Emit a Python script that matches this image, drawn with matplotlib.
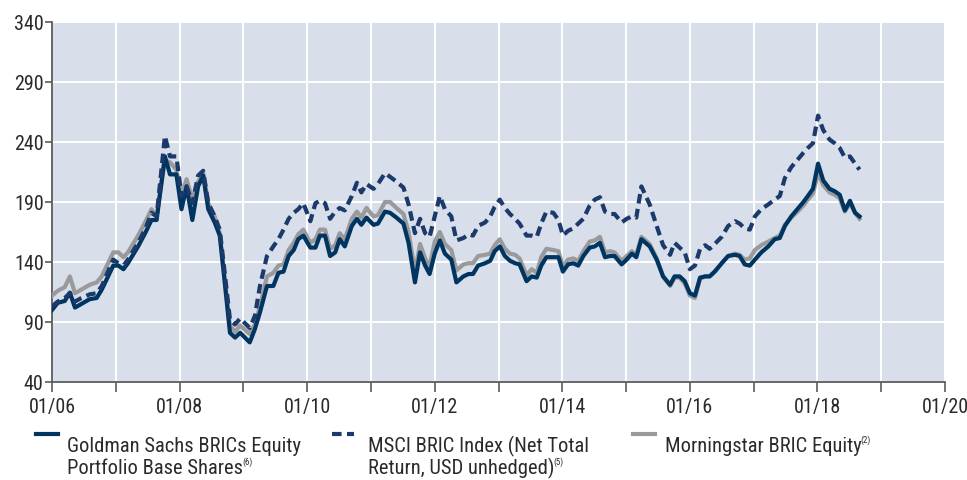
import numpy as np
import matplotlib
matplotlib.use("Agg")
import matplotlib.pyplot as plt
from matplotlib.lines import Line2D
from matplotlib.ticker import MultipleLocator, FuncFormatter

plt.rcParams['font.family'] = ['Liberation Sans Narrow', 'Roboto Condensed',
                               'Liberation Sans', 'DejaVu Sans']

# time in decimal years (month-end readings)
t = [
    2006.00, 2006.09, 2006.20, 2006.28, 2006.36, 2006.46, 2006.59, 2006.70, 2006.78, 2006.96,
    2007.04, 2007.12, 2007.19, 2007.35, 2007.46, 2007.56, 2007.64, 2007.77, 2007.85, 2007.95,
    2008.03, 2008.11, 2008.20, 2008.29, 2008.37, 2008.45, 2008.55, 2008.63, 2008.71, 2008.79,
    2008.87, 2008.95, 2009.10, 2009.18, 2009.26, 2009.37, 2009.47, 2009.55, 2009.63, 2009.71,
    2009.79, 2009.86, 2009.94, 2010.05, 2010.13,
    2010.20, 2010.28, 2010.36, 2010.44, 2010.51, 2010.59, 2010.70, 2010.78, 2010.85, 2010.93,
    2011.04, 2011.11, 2011.22, 2011.30, 2011.40, 2011.51, 2011.59, 2011.69, 2011.77, 2011.85,
    2011.92, 2012.00, 2012.08, 2012.16, 2012.26, 2012.34, 2012.45, 2012.53, 2012.60, 2012.68,
    2012.79, 2012.87, 2012.94, 2013.02, 2013.10, 2013.18, 2013.26, 2013.33, 2013.44, 2013.52,
    2013.60, 2013.67, 2013.75, 2013.86, 2013.94, 2014.01, 2014.09, 2014.17, 2014.25, 2014.33,
    2014.43, 2014.51, 2014.59, 2014.67, 2014.75, 2014.82, 2014.93, 2015.01, 2015.09, 2015.16,
    2015.24, 2015.37,
    2015.48, 2015.58, 2015.69, 2015.76, 2015.84, 2015.92, 2016.00, 2016.08, 2016.16, 2016.24,
    2016.31, 2016.39, 2016.50, 2016.60, 2016.71, 2016.78, 2016.86, 2016.94, 2017.02, 2017.12,
    2017.23, 2017.33, 2017.41, 2017.49, 2017.59, 2017.67, 2017.78, 2017.85, 2017.93, 2018.01,
    2018.09, 2018.19, 2018.27, 2018.35, 2018.43, 2018.51, 2018.59, 2018.66,
]

goldman = [
    100, 106, 107.5, 114.5, 102, 105, 109, 110, 117, 137,
    137, 134, 139, 153, 164, 175, 175, 228, 213, 213,
    184, 203, 175, 203, 212, 184, 173, 162, 122, 81,
    77, 81, 73, 84, 98, 120, 120, 131, 132, 145,
    150, 159, 162, 152, 152,
    162, 162, 145, 148, 159, 153, 170, 176, 171, 177,
    171, 172, 182, 181, 177, 172, 156, 123, 148, 137,
    130, 147, 158, 147, 142, 123, 128, 130, 130, 137,
    139, 141, 149, 153, 145, 141, 139, 138, 124, 128,
    127, 137, 144, 144, 144, 132, 138, 139, 137, 145,
    152, 153, 156, 144, 145, 145, 138, 142, 147, 144,
    159, 153,
    142, 128, 121, 128, 128, 124, 114, 112, 127, 128,
    128, 132, 139, 145, 146, 145, 138, 137, 142, 148,
    153, 159, 160, 170, 178, 183, 190, 195, 201, 222,
    208, 201, 199, 196, 183, 191, 181, 178,
]

msci = [
    103, 107, 110, 114, 107, 110, 113, 114, 120, 142,
    139, 137, 142, 156, 167, 181, 178, 245, 228, 228,
    195, 203, 189, 212, 216, 189, 178, 167, 130, 92,
    88, 93, 85, 95, 120, 145, 153, 159, 167, 176,
    181, 184, 189, 174, 189,
    191, 189, 176, 182, 185, 183, 195, 206, 198, 205,
    201, 205, 214, 211, 207, 202, 188, 164, 176, 164,
    161, 178, 195, 184, 178, 158, 160, 163, 162, 170,
    173, 178, 186, 192, 185, 180, 176, 172, 162, 162,
    161, 172, 182, 181, 175, 162, 166, 168, 172, 176,
    187, 192, 194, 182, 180, 180, 173, 176, 178, 177,
    203, 188,
    170, 154, 146, 156, 152, 148, 134, 137, 151, 154,
    151, 155, 161, 170, 174, 172, 168, 167, 178, 184,
    188, 192, 195, 210, 219, 224, 231, 235, 239, 262,
    250, 242, 239, 235, 227, 228, 222, 217,
]

morningstar = [
    112, 116, 119, 128, 114, 117, 121, 123, 128, 148,
    148, 144, 148, 162, 173, 184, 178, 225, 223, 217,
    195, 209, 192, 207, 214, 189, 178, 164, 125, 87,
    82, 87, 80, 88, 103, 128, 131, 137, 138, 150,
    156, 163, 167, 156, 159,
    167, 167, 151, 154, 164, 159, 176, 182, 177, 185,
    178, 179, 190, 190, 185, 180, 165, 132, 155, 143,
    136, 157, 165, 155, 150, 133, 138, 139, 139, 145,
    146, 147, 154, 159, 151, 147, 146, 143, 129, 134,
    131, 144, 151, 150, 149, 136, 142, 143, 141, 149,
    157, 158, 161, 148, 149, 148, 141, 145, 149, 146,
    161, 155,
    143, 128, 120, 127, 127, 122, 112, 110, 126, 128,
    128, 132, 139, 145, 147, 146, 142, 143, 150, 154,
    157, 160, 162, 171, 177, 181, 187, 192, 197, 214,
    204, 198, 196, 193, 182, 189, 181, 176,
]

yticks = [40, 90, 140, 190, 240, 290, 340]

legend_lines1 = ["Goldman Sachs BRICs Equity", "MSCI BRIC Index (Net Total",
                 "Morningstar BRIC Equity"]
legend_lines2 = ["Portfolio Base Shares", "Return, USD unhedged)", ""]
legend_notes = ["(6)", "(5)", "(2)"]

navy = "#003461"
navy2 = "#1B3A6B"
grey = "#9A9A9C"
bg = "#D9DFEA"
axcol = "#5A5B5D"
txtcol = "#2A2A2A"

W, H = 967, 481
fig = plt.figure(figsize=(W / 100, H / 100), dpi=100)
ax = fig.add_axes([52 / W, 1 - 383 / H, 893 / W, 360 / H])
ax.set_facecolor(bg)

lw = 3.0
styles = [dict(color=navy, lw=lw, zorder=4),
          dict(color=navy2, lw=lw, zorder=5, dashes=(2.3, 1.3), dash_capstyle="butt"),
          dict(color=grey, lw=lw, zorder=3)]
ax.plot(t, goldman, **styles[0])
ax.plot(t, msci, **styles[1])
ax.plot(t, morningstar, **styles[2])

ax.set_xlim(2006, 2020)
ax.set_ylim(40, 340)
ax.xaxis.set_major_locator(MultipleLocator(1))
ax.xaxis.set_major_formatter(FuncFormatter(
    lambda v, p: "01/%02d" % (int(round(v)) % 100) if int(round(v)) % 2 == 0 else ""))
ax.set_yticks(yticks)

ax.grid(True, color="white", lw=1.4, zorder=1)
ax.set_axisbelow(True)

for s in ["top", "right"]:
    ax.spines[s].set_visible(False)
for s in ["left", "bottom"]:
    ax.spines[s].set_color(axcol)
    ax.spines[s].set_linewidth(1.3)

ax.tick_params(axis="y", length=5, width=1.2, color=axcol, labelsize=14.5,
               pad=1, labelcolor=txtcol)
ax.tick_params(axis="x", length=7, width=1.2, color=axcol, labelsize=14.5,
               pad=4, labelcolor=txtcol)

# legend drawn by hand: handle at the first text line, two-line labels
def fx(x):
    return x / W

def fy(y):
    return 1 - y / H

handle_x = [36, 332, 633]
text_x = [67, 368, 665]
fs = 14.8
row1, row2 = 452, 474
texts = []
for i in range(3):
    fig.add_artist(Line2D([fx(handle_x[i]), fx(handle_x[i] + 22)], [fy(435), fy(435)],
                          transform=fig.transFigure, **{k: v for k, v in styles[i].items()
                                                        if k != "zorder"}))
    fig.text(fx(text_x[i]), fy(row1), legend_lines1[i], fontsize=fs, color=txtcol,
             va="baseline", ha="left")
    if legend_lines2[i]:
        tt = fig.text(fx(text_x[i]), fy(row2), legend_lines2[i], fontsize=fs,
                      color=txtcol, va="baseline", ha="left")
    else:
        tt = fig.texts[-1]
    texts.append(tt)

fig.canvas.draw()
r = fig.canvas.get_renderer()
for i, tt in enumerate(texts):
    bb = tt.get_window_extent(r)
    base = row2 if legend_lines2[i] else row1
    fig.text(fx(bb.x1 - 1), fy(base - 9), legend_notes[i], fontsize=6.5,
             color=txtcol, va="baseline", ha="left")

fig.savefig("out.png", dpi=100, facecolor="white")
